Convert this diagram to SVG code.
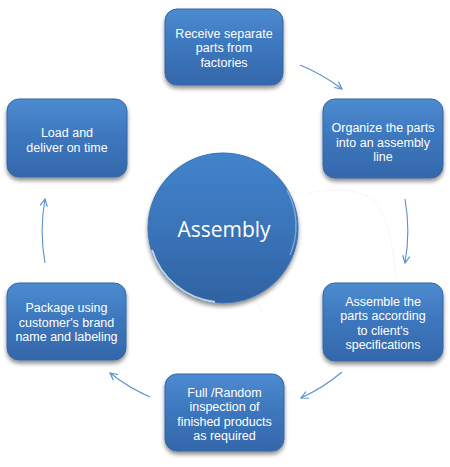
<svg xmlns="http://www.w3.org/2000/svg" width="450" height="467" viewBox="0 0 450 467">
<defs>
<linearGradient id="gBox" x1="0" y1="0" x2="0" y2="1">
<stop offset="0" stop-color="#4d8bd0"/>
<stop offset="0.5" stop-color="#3c76bd"/>
<stop offset="1" stop-color="#3567aa"/>
</linearGradient>
<linearGradient id="gCirc" x1="0" y1="0" x2="0" y2="1">
<stop offset="0" stop-color="#4184cc"/>
<stop offset="0.5" stop-color="#3a74b9"/>
<stop offset="1" stop-color="#2f62a2"/>
</linearGradient>
<filter id="sh" x="-20%" y="-20%" width="140%" height="150%">
<feGaussianBlur in="SourceAlpha" stdDeviation="2"/>
<feOffset dx="0" dy="3" result="b"/>
<feComponentTransfer><feFuncA type="linear" slope="0.45"/></feComponentTransfer>
<feMerge><feMergeNode/><feMergeNode in="SourceGraphic"/></feMerge>
</filter>
<marker id="ah" viewBox="0 0 10 10" refX="9" refY="5" markerWidth="9" markerHeight="9" markerUnits="userSpaceOnUse" orient="auto">
<path d="M1,1 L9,5 L1,9" fill="none" stroke="#5b8fd0" stroke-width="1.3"/>
</marker>
</defs>
<style>
.box{fill:url(#gBox);stroke:#3566a6;stroke-width:1;filter:url(#sh)}
.t{font-family:"Liberation Sans",Arial,sans-serif;font-size:12.5px;fill:#ffffff;text-anchor:middle}
.c{fill:none;stroke:#5b8fd0;stroke-width:1.1;marker-end:url(#ah)}
</style>
<rect width="450" height="467" fill="#ffffff"/>
<path d="M297,188 Q255,225 250,268 Q250,300 266,316" fill="none" stroke="#e8eef6" stroke-width="0.8" stroke-dasharray="2,1"/>
<path d="M310,193 Q345,185 372,198 Q392,220 396,280" fill="none" stroke="#e8eef6" stroke-width="0.8" stroke-dasharray="2,1"/>
<g id="connectors">
<path class="c" d="M300,65 A182,182 0 0 1 342,89"/>
<path class="c" d="M405,199 A182,182 0 0 1 405,263"/>
<path class="c" d="M342,372 A182,182 0 0 1 301,398"/>
<path class="c" d="M150,397 A182,182 0 0 1 110,373"/>
<path class="c" d="M45,263 A182,182 0 0 1 45,199"/>
</g>
<g id="center">
<circle cx="223" cy="228" r="75" fill="url(#gCirc)" stroke="#3a6fb0" stroke-width="1" filter="url(#sh)"/>
<path d="M152,250 A75,75 0 0 0 215,302" fill="none" stroke="#ffffff" stroke-opacity="0.7" stroke-width="2"/>
<path d="M287,190 A75,75 0 0 1 290,255" fill="none" stroke="#ffffff" stroke-opacity="0.35" stroke-width="1.5"/>
<text x="224" y="237" font-family="Open Sans,Noto Sans,sans-serif" font-size="21" fill="#ffffff" text-anchor="middle">Assembly</text>
</g>
<g id="n1">
<rect class="box" x="165" y="9" width="118" height="76" rx="12"/>
<text class="t" x="224" y="37.5">Receive separate</text>
<text class="t" x="224" y="52">parts from</text>
<text class="t" x="224" y="66.5">factories</text>
</g>
<g id="n2">
<rect class="box" x="323" y="99" width="120" height="79" rx="12"/>
<text class="t" x="383" y="132">Organize the parts</text>
<text class="t" x="383" y="146.5">into an assembly</text>
<text class="t" x="383" y="161">line</text>
</g>
<g id="n3">
<rect class="box" x="323" y="283" width="120" height="78" rx="12"/>
<text class="t" x="383" y="305.5">Assemble the</text>
<text class="t" x="383" y="320">parts according</text>
<text class="t" x="383" y="334.5">to client's</text>
<text class="t" x="383" y="349">specifications</text>
</g>
<g id="n4">
<rect class="box" x="165" y="374" width="119" height="77" rx="12"/>
<text class="t" x="224.5" y="396.5">Full /Random</text>
<text class="t" x="224.5" y="411">inspection of</text>
<text class="t" x="224.5" y="425.5">finished products</text>
<text class="t" x="224.5" y="440">as required</text>
</g>
<g id="n5">
<rect class="box" x="7" y="283" width="119" height="77" rx="12"/>
<text class="t" x="66.5" y="312">Package using</text>
<text class="t" x="66.5" y="326.5">customer's brand</text>
<text class="t" x="66.5" y="341">name and labeling</text>
</g>
<g id="n6">
<rect class="box" x="7" y="99" width="120" height="78" rx="12"/>
<text class="t" x="67" y="137">Load and</text>
<text class="t" x="67" y="151.5">deliver on time</text>
</g>
</svg>
